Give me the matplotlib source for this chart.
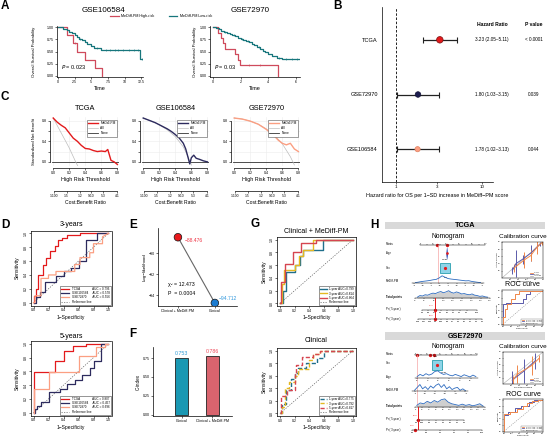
import matplotlib
matplotlib.use('Agg')
import matplotlib.pyplot as plt
import numpy as np
from matplotlib.lines import Line2D
from matplotlib.transforms import blended_transform_factory

plt.rcParams['font.family'] = ['Liberation Sans', 'DejaVu Sans']
plt.rcParams.update({
    'axes.linewidth': 0.5,
    'xtick.major.width': 0.4, 'ytick.major.width': 0.4,
    'xtick.major.size': 1.3, 'ytick.major.size': 1.3,
    'xtick.major.pad': 0.8, 'ytick.major.pad': 0.8,
    'xtick.labelsize': 2.6, 'ytick.labelsize': 2.6,
    'axes.labelpad': 1.5,
})

# ---------------- DATA ----------------
# A: Kaplan-Meier
km1_hi_t = [0, 1.3, 2.2, 2.8, 4.0, 5.5, 6.6]
km1_hi_s = [1.0, 0.833, 0.667, 0.5, 0.333, 0.167, 0.0]
km1_hi_cens = [2.5]
km1_lo_t = [0, 0.8, 1.3, 1.7, 2.1, 2.5, 2.9, 3.2, 3.6, 4.0, 4.4, 4.9, 5.4, 6.5, 12.3, 12.7]
km1_lo_s = [1.0, 0.97, 0.94, 0.91, 0.88, 0.84, 0.80, 0.77, 0.74, 0.70, 0.66, 0.62, 0.58, 0.53, 0.34, 0.34]
km1_lo_cens = [3.3, 5.9, 7.2, 7.8, 8.5, 9.0, 9.8, 10.6, 11.4, 12.0, 12.6]
km2_hi_t = [0, 0.38, 0.55, 0.72, 0.85, 1.6, 1.8, 1.95, 4.7]
km2_hi_s = [1.0, 0.89, 0.78, 0.67, 0.56, 0.44, 0.33, 0.22, 0.0]
km2_hi_cens = [2.6, 3.4]
km2_lo_t = [0, 0.2, 0.4, 0.6, 0.8, 1.0, 1.2, 1.4, 1.6, 1.8, 2.0, 2.2, 2.4, 2.6, 2.8,
            3.0, 3.2, 3.4, 3.6, 3.8, 4.0, 4.3, 4.6, 5.0, 6.2]
km2_lo_s = [1.0, 0.98, 0.96, 0.93, 0.91, 0.89, 0.87, 0.85, 0.82, 0.79, 0.77, 0.74, 0.72,
            0.69, 0.66, 0.63, 0.60, 0.56, 0.52, 0.48, 0.45, 0.41, 0.37, 0.35, 0.35]
km2_lo_cens = [0.9, 1.5, 2.1, 2.5, 3.3, 4.8, 5.3, 5.7, 6.1]
km_p = ['0.023', '0.03']

# B: forest plot
cohorts = ['TCGA', 'GSE72970', 'GSE106584']
hr = [3.23, 1.80, 1.78]
hr_lo = [2.05, 1.03, 1.02]
hr_hi = [5.11, 3.15, 3.13]
hr_p = ['< 0.0001', '0.039', '0.044']

# C: decision curves
dca_t_tcga = [0, .05, .1, .15, .2, .25, .3, .35, .4, .45, .5, .55, .6, .65, .68, .72, .76, .8]
dca_nb_tcga = [.85, .77, .71, .66, .56, .46, .40, .32, .26, .25, .22, .20, .21, .20, .24, .03, .0, -.05]
all_t_tcga = [0, .1, .2, .28, .31]
all_nb_tcga = [.85, .56, .27, 0.0, -.09]
dca_t_106 = [0, .05, .1, .15, .2, .25, .3, .35, .4, .45, .5, .53, .56, .58, .6, .63, .66, .7, .75, .8]
dca_nb_106 = [.85, .82, .79, .76, .72, .68, .64, .59, .53, .46, .36, .25, .08, -.04, .08, .13, .07, .05, .02, .0]
all_t_106 = [0, .1, .2, .3, .4, .5, .55, .6]
all_nb_106 = [.85, .79, .72, .62, .49, .29, .13, -.06]
dca_t_729 = [0, .1, .2, .3, .4, .5, .55, .6, .65, .7, .75, .8]
dca_nb_729 = [.85, .83, .79, .73, .63, .5, .42, .36, .33, .36, .25, .2]
all_t_729 = [0, .1, .2, .3, .4, .5, .6, .7, .75]
all_nb_729 = [.85, .83, .79, .73, .64, .52, .35, .1, -.06]
cb_ticks = [0.0099, 0.1667, 0.3333, 0.4737, 0.625, 0.8]
cb_labels = ['1:100', '1:5', '1:2', '9:10', '5:3', '4:1']

# D: time-dependent ROC per cohort
d3_tcga_f = [0, 0, .03, .03, .06, .06, .12, .12, .16, .16, .22, .22, .28, .28, .32, .32, .38, .38, .45, .45, .62, .62, 1.0]
d3_tcga_s = [0, .1, .1, .2, .2, .4, .4, .55, .55, .65, .65, .75, .75, .82, .82, .9, .9, .93, .93, .97, .97, 1.0, 1.0]
d3_106_f = [0, .03, .03, .08, .08, .15, .15, .3, .3, .4, .4, .5, .5, .6, .6, .7, .7, .85, .85, 1.0]
d3_106_s = [0, 0, .08, .08, .15, .15, .3, .3, .38, .38, .45, .45, .5, .5, .6, .6, .9, .9, 1.0, 1.0]
d3_729_f = [0, .02, .02, .1, .1, .2, .2, .3, .3, .55, .55, .62, .62, .75, .75, .8, .8, .92, .92, 1.0]
d3_729_s = [0, 0, .1, .1, .35, .35, .4, .4, .45, .45, .55, .55, .65, .65, .72, .72, .85, .85, .95, 1.0]
d5_tcga_f = [0, 0, .29, .29, .4, .4, .52, .52, .7, .7, 1.0]
d5_tcga_s = [0, .59, .59, .75, .75, .9, .9, .97, .97, 1.0, 1.0]
d5_106_f = [0, .02, .02, .05, .05, .1, .1, .2, .2, .35, .35, .45, .45, .55, .55, .65, .65, .75, .75, .8, .8, .9, .9, 1.0]
d5_106_s = [0, 0, .05, .05, .1, .1, .15, .15, .3, .3, .35, .35, .42, .42, .48, .48, .55, .55, .65, .65, .75, .75, 1.0, 1.0]
d5_729_f = [0, 0, .2, .2, .6, .6, .83, .83, .95, .95, 1.0]
d5_729_s = [0, .35, .35, .59, .59, .82, .82, .95, .95, 1.0, 1.0]
d3_auc = ['0.796', '0.578', '0.556']
d5_auc = ['0.807', '0.457', '0.696']

# E: likelihood ratio test
lr_models = ['Clinical + MeDiff-PM', 'Clinical']
lr_loglik = [-88.476, -94.712]
lr_chi2 = '12.473'
lr_p = '0.0004'

# F: C-index
ci_models = ['Clinical', 'Clinical + MeDiff-PM']
ci_vals = [0.753, 0.786]

# G: nomogram ROC
g1_f = [0, .04, .04, .08, .08, .2, .2, .27, .27, .32, .32, .59, .59, 1.0]
g1_s = [0, 0, .2, .2, .5, .5, .6, .6, .75, .75, .83, .83, 1.0, 1.0]
g3_f = [0, .03, .03, .06, .06, .2, .2, .26, .26, .32, .32, .45, .45, 1.0]
g3_s = [0, 0, .3, .3, .52, .52, .6, .6, .75, .75, .83, .83, 1.0, 1.0]
g5_f = [0, .01, .01, .07, .07, .18, .18, .29, .29, .49, .49, 1.0]
g5_s = [0, 0, .33, .33, .61, .61, .8, .8, .94, .94, 1.0, 1.0]
gc1_f = [0, .03, .03, .08, .08, .15, .15, .2, .2, .25, .25, .35, .35, .5, .5, .6, .6, 1.0]
gc1_s = [0, 0, .15, .15, .38, .38, .55, .55, .65, .65, .72, .72, .8, .8, .88, .88, 1.0, 1.0]
gc3_f = [0, .03, .03, .07, .07, .12, .12, .2, .2, .25, .25, .4, .4, .45, .45, .55, .55, 1.0]
gc3_s = [0, 0, .1, .1, .4, .4, .5, .5, .6, .6, .7, .7, .85, .85, .95, .95, 1.0, 1.0]
gc5_f = [0, .01, .01, .1, .1, .2, .2, .22, .22, .3, .3, .45, .45, .55, .55, 1.0]
gc5_s = [0, 0, .28, .28, .38, .38, .62, .62, .77, .77, .89, .89, .95, .95, 1.0, 1.0]
g_auc = ['0.799', '0.814', '0.864']
gc_auc = ['0.775', '0.792', '0.817']

# H: nomograms (TCGA, GSE72970)
pts_ticks = list(range(0, 101, 10))
pts_labels = ['0', '', '20', '', '40', '', '60', '', '80', '', '100']
t_med_ticks = [-6, -5.5, -5, -4.5, -4, -3.5, -3, -2.5, -2]
t_med_dens = [.05, .12, .2, .25, .3, .36, .45, .5, .7, 1.0, .8, .62, .55, .5, .46, .4, .35, .3, .32, .22, .16, .1, .05]
t_tot_ticks = [40, 60, 80, 100, 120, 140, 160, 180, 200]
t_tot_dens = [.1, .3, .25, .4, .35, .5, .6, .55, .7, .8, .65, .75, .9, .7, .6, .75, .65, .5, .55, .45, .4, .5, .35, .3, .2, .25, .15, .1]
t_pr5_pos = [55, 68, 82, 95, 108, 121, 135, 150, 172]
t_pr5_lab = ['0.9', '0.8', '0.7', '0.6', '0.5', '0.4', '0.3', '0.2', '0.05']
t_pr3_pos = [47, 60, 72, 84, 96, 108, 120, 132, 145, 158, 170, 183]
t_pr3_lab = ['0.99', '0.97', '0.95', '0.9', '0.85', '0.8', '0.7', '0.6', '0.5', '0.4', '0.3', '0.2']
t_pat_pts = [26, 41]
t_pat_med_pts = 27.7
t_pat_total = 83
t_pat_pr = ['0.706', '0.902']
t_age_pts = 41
t_age_half = [.2, .6, 1.0, 1.2, 1.0, .8, .5, .2]
t_sex_pts = 38

g_age_ticks = [30, 40, 50, 60, 70, 80]
g_age_dens = [.2, .5, .3, .6, .4, .55, .9, 1.0, .7, .5, .6, .4, .3, .5, .35, .2, .45, .3, .15, .4, .2]
g_med_ticks = [-8, -7.6, -7.2, -6.8, -6.4, -6.0]
g_med_dens = [.1, .5, .9, .3, .6, .2, .7, .4, .8, 1.0, .5, .9, .3, .6, .2, .4, .5, .1, .3, .05]
g_tot_ticks = [0, 20, 40, 60, 80, 100, 120, 140, 160, 180, 200]
g_tot_dens = [.2, .5, .4, .7, .5, .8, .6, .9, 1.0, .6, .4, .3, .2, .35, .2, .3, .15, .25, .4, .1]
g_pr5_pos = [5, 20, 40, 60, 80, 100, 120, 140]
g_pr5_lab = ['0.9', '0.85', '0.8', '0.7', '0.6', '0.5', '0.4', '0.3']
g_pr3_pos = [0, 40, 80, 120, 160, 200]
g_pr3_lab = ['0.9', '0.8', '0.6', '0.4', '0.2', '0.05']
g_pat_pts = [3, 24, 30]
g_pat_total = 8
g_pat_pr = ['0.826', '0.741']
g_sex_pts = 35

cal_t_p1 = [0.30, 0.54, 0.70, 0.85, 0.97]; cal_t_o1 = [0.28, 0.50, 0.62, 0.85, 0.98]
cal_t_p3 = [0.25, 0.34, 0.50, 0.71, 0.93]; cal_t_o3 = [0.20, 0.40, 0.52, 0.70, 0.95]
cal_t_e1 = [0.10, 0.22, 0.15, 0.17, 0.05]; cal_t_e3 = [0.10, 0.37, 0.12, 0.22, 0.05]
cal_g_p1 = [0.25, 0.35, 0.72, 0.90]; cal_g_o1 = [0.12, 0.30, 0.58, 0.80]
cal_g_p3 = [0.23, 0.52, 0.80]; cal_g_o3 = [0.12, 0.40, 0.72]
cal_g_e1 = [0.12, 0.28, 0.30, 0.10]; cal_g_e3 = [0.30, 0.38, 0.25]

hr_t_f1 = [0, 0, .05, .05, .1, .1, .2, .2, .3, .3, .4, .4, 1.0]
hr_t_s1 = [0, .2, .2, .45, .45, .6, .6, .75, .75, .9, .9, 1.0, 1.0]
hr_t_f3 = [0, 0, .08, .08, .5, .5, .6, .6, .7, .7, 1.0]
hr_t_s3 = [0, .6, .6, .65, .65, .75, .75, .9, .9, 1.0, 1.0]
hr_g_f1 = [0, 0, .15, .15, .35, .35, .5, .5, .6, .6, .75, .75, .9, .9, 1.0]
hr_g_s1 = [0, .55, .55, .6, .6, .7, .7, .82, .82, .9, .9, .95, .95, 1.0, 1.0]
hr_g_f3 = [0, 0, .1, .1, .3, .3, .45, .45, .65, .65, .8, .8, 1.0]
hr_g_s3 = [0, .5, .5, .6, .6, .75, .75, .8, .8, .92, .92, 1.0, 1.0]

# ---------------- COLOURS ----------------
C_RED = '#e31a1c'; C_NAVY = '#2d2b5e'; C_SAL = '#fb9f82'
KM_RED = '#cf4a5c'; KM_TEAL = '#17767c'
G_TEAL = '#1f6f8b'; G_GOLD = '#e5b822'; G_RED = '#d64550'
H_BLUE = '#2e6cc0'; H_ORANGE = '#f0884a'; H_PURPLE = '#5a5aaa'

W, H = 550, 441
fig = plt.figure(figsize=(W / 100, H / 100), dpi=100)


def axpx(x0, y0, x1, y1):
    return fig.add_axes([x0 / W, 1 - y1 / H, (x1 - x0) / W, (y1 - y0) / H])


def ftext(x, y, s, **kw):
    kw.setdefault('ha', 'center')
    kw.setdefault('va', 'center')
    fig.text(x / W, 1 - y / H, s, **kw)


def classic(ax):
    ax.spines['top'].set_visible(False)
    ax.spines['right'].set_visible(False)


for lab, x, y in [('A', 5, 6), ('B', 337, 6), ('C', 5, 97), ('D', 5, 225), ('E', 133, 225),
                  ('F', 133, 334), ('G', 255, 224), ('H', 374, 225)]:
    ftext(x, y, lab, fontsize=8.5, fontweight='bold')

# ---------------- A ----------------
def surv_at(ts, times, s):
    idx = np.searchsorted(times, ts, side='right') - 1
    return np.array(s)[idx]


def km(ax, t, s, cens, color):
    ax.step(t, s, where='post', color=color, lw=0.9)
    if cens:
        ax.plot(cens, surv_at(cens, t, s), ls='none', marker='|', ms=1.8, mew=0.4, color=color)


for (box, title, tx, series, xt, xl, p, lp) in [
        ((57, 26, 143, 77), 'GSE106584', 103,
         [(km1_hi_t, km1_hi_s, km1_hi_cens, KM_RED), (km1_lo_t, km1_lo_s, km1_lo_cens, KM_TEAL)],
         [0, 2.5, 5, 7.5, 10, 12.5], (-0.15, 12.75), km_p[0], 8),
        ((210, 26, 300, 77), 'GSE72970', 250,
         [(km2_hi_t, km2_hi_s, km2_hi_cens, KM_RED), (km2_lo_t, km2_lo_s, km2_lo_cens, KM_TEAL)],
         [0, 2, 4, 6], (-0.22, 6.3), km_p[1], 2.5)]:
    ax = axpx(*box)
    classic(ax)
    for t, s, c, col in series:
        km(ax, t, s, c, col)
    ax.set_xlim(xl)
    ax.set_ylim(-0.03, 1.03)
    ax.set_xticks(xt)
    ax.set_xticklabels([f'{v:g}' for v in xt])
    ax.set_yticks([0, 0.25, 0.5, 0.75, 1.0])
    ax.set_yticklabels(['0.00', '0.25', '0.50', '0.75', '1.00'])
    ax.set_xlabel('Time', fontsize=4, labelpad=1.5)
    ax.set_ylabel('Overall Survival Probability', fontsize=3.1, labelpad=lp)
    ax.text(0.05, 0.2, '$\\it{P}$ = ' + p, transform=ax.transAxes, fontsize=4, va='center')
    ftext(tx, 10, title, fontsize=5.8)

fig.legend(handles=[Line2D([], [], color=KM_RED, lw=0.9), Line2D([], [], color=KM_TEAL, lw=0.9)],
           labels=['MeDiff-PM High-risk', 'MeDiff-PM Low-risk'], loc='center',
           bbox_to_anchor=(161 / W, 1 - 16 / H), ncol=2, frameon=False, fontsize=2.7,
           handlelength=2.2, columnspacing=4, handletextpad=0.6)

# ---------------- B ----------------
axB = axpx(382, 7, 493, 182)
classic(axB)
ypos = np.arange(len(cohorts), 0, -1)
hr_a = np.array(hr)
axB.errorbar(hr_a, ypos, xerr=[hr_a - np.array(hr_lo), np.array(hr_hi) - hr_a], fmt='none',
             ecolor='#222222', elinewidth=0.9, capsize=2.2, capthick=0.8)
axB.scatter(hr_a, ypos, s=[22, 16, 14], c=[C_RED, '#1c1c4f', C_SAL], edgecolors=['#7a1010', '#111133', '#e08060'],
            linewidths=0.5, zorder=3)
axB.axvline(1, ls=(0, (3, 2)), color='black', lw=0.6)
axB.set_xscale('log')
axB.set_xlim(0.687, 13.4)
axB.set_ylim(0.4, 3.6)
axB.set_xticks([1, 3, 10])
axB.set_xticklabels(['1', '3', '10'], fontsize=3.2)
axB.minorticks_off()
axB.set_yticks(ypos)
axB.set_yticklabels(cohorts, fontsize=4.1)
axB.tick_params(axis='y', length=0, pad=3)
axB.set_xlabel('Hazard ratio for OS per 1−SD increase in MeDiff−PM score', fontsize=3.9, labelpad=3)
trB = blended_transform_factory(fig.transFigure, axB.transData)
axB.text(492 / W, 3.28, 'Hazard Ratio', transform=trB, ha='center', va='center', fontsize=3.6,
         fontweight='bold')
axB.text(534 / W, 3.28, 'P value', transform=trB, ha='center', va='center', fontsize=3.6,
         fontweight='bold')
for i in range(len(cohorts)):
    axB.text(492 / W, ypos[i], f'{hr[i]:.2f} ({hr_lo[i]:.2f}–{hr_hi[i]:.2f})', transform=trB,
             ha='center', va='center', fontsize=3.3)
    axB.text(534 / W, ypos[i], hr_p[i], transform=trB, ha='center', va='center', fontsize=3.3)

# ---------------- C ----------------
dca_sets = [('TCGA', (52, 117, 119, 166), dca_t_tcga, dca_nb_tcga, all_t_tcga, all_nb_tcga, C_RED),
            ('GSE106584', (142, 117, 209, 166), dca_t_106, dca_nb_106, all_t_106, all_nb_106, C_NAVY),
            ('GSE72970', (233, 117, 300, 166), dca_t_729, dca_nb_729, all_t_729, all_nb_729, C_SAL)]
for k, (title, box, t, nb, ta, nba, col) in enumerate(dca_sets):
    ax = axpx(*box)
    classic(ax)
    ax.grid(color='#ececec', lw=0.4)
    ax.set_axisbelow(True)
    ax.axhline(0, color='#333333', lw=0.6, label='None')
    ax.plot(ta, nba, color='#bdbdbd', lw=0.5, label='All')
    ax.plot(t, nb, color=col, lw=1.0, label='MeDiff-PM')
    ax.set_xlim(-0.015, 0.82)
    ax.set_ylim(-0.08, 0.87)
    ax.set_xticks([0, .2, .4, .6, .8])
    ax.set_xticklabels(['0.0', '0.2', '0.4', '0.6', '0.8'], fontsize=2.4)
    ax.set_yticks([0, .2, .4, .6, .8])
    ax.set_yticklabels(['0.0', '', '0.4', '', '0.8'], fontsize=2.4, rotation=90, va='center')
    ax.spines['left'].set_bounds(0, 0.8)
    ax.spines['bottom'].set_bounds(0, 0.8)
    ax.spines['left'].set_position(('outward', 1.5))
    ax.spines['bottom'].set_position(('outward', 1.5))
    ax.set_xlabel('High Risk Threshold', fontsize=3.9, labelpad=1.5)
    if k == 0:
        ax.set_ylabel('Standardized Net Benefit', fontsize=3.1, labelpad=4)
    h, l = ax.get_legend_handles_labels()
    ax.legend([h[2], h[1], h[0]], [l[2], l[1], l[0]], loc='upper right', bbox_to_anchor=(1.0, 0.98),
              fontsize=2.3, frameon=True, fancybox=False, edgecolor='#555555', framealpha=1,
              handlelength=3, borderpad=0.5, labelspacing=0.3).get_frame().set_linewidth(0.4)
    sec = ax.secondary_xaxis(-0.52)
    sec.set_xticks(cb_ticks)
    sec.set_xticklabels(cb_labels, fontsize=2.4)
    sec.spines['bottom'].set_bounds(cb_ticks[0], cb_ticks[-1])
    sec.set_xlabel('Cost:Benefit Ratio', fontsize=3.6, labelpad=1.5)
    ftext((box[0] + box[2]) / 2, 109, title, fontsize=5.3)

# ---------------- D ----------------
def roc_axes(ax):
    ax.set_xlim(-0.04, 1.04)
    ax.set_ylim(-0.04, 1.04)
    ax.set_xticks([0, .2, .4, .6, .8, 1])
    ax.set_xticklabels(['0.0', '0.2', '0.4', '0.6', '0.8', '1.0'], fontsize=2.5)
    ax.set_yticks([0, .2, .4, .6, .8, 1])
    ax.set_yticklabels(['0.0', '0.2', '0.4', '0.6', '0.8', '1.0'], fontsize=2.5, rotation=90, va='center')
    ax.plot([0, 1], [0, 1], ls=(0, (2, 2)), color='#555555', lw=0.45, label='Reference line')
    ax.set_xlabel('1−Specificity', fontsize=3.6, labelpad=1.5)
    ax.set_ylabel('Sensitivity', fontsize=3.6, labelpad=2.5)


for (box, ttl, ty, curves, aucs) in [
        ((30.5, 230.5, 111.5, 305.5), '3-years', 225,
         [(d3_tcga_f, d3_tcga_s), (d3_106_f, d3_106_s), (d3_729_f, d3_729_s)], d3_auc),
        ((30.5, 341, 111.5, 415.5), '5-years', 336,
         [(d5_tcga_f, d5_tcga_s), (d5_106_f, d5_106_s), (d5_729_f, d5_729_s)], d5_auc)]:
    ax = axpx(*box)
    roc_axes(ax)
    hs = []
    for (f, s), col in zip(curves, [C_RED, C_NAVY, C_SAL]):
        hs.append(ax.plot(f, s, color=col, lw=0.9)[0])
    hs.append(Line2D([], [], ls=(0, (2, 2)), color='#555555', lw=0.45))
    labs = [f'TCGA              AUC = {aucs[0]}', f'GSE106584     AUC = {aucs[1]}',
            f'GSE72970       AUC = {aucs[2]}', 'Reference line']
    lg = ax.legend(hs, labs, loc='lower right', fontsize=2.2, frameon=True, fancybox=False,
                   edgecolor='#444444', framealpha=1, handlelength=2.8, borderpad=0.3,
                   labelspacing=0.1, borderaxespad=0.3)
    lg.get_frame().set_linewidth(0.4)
    ftext((box[0] + box[2]) / 2, ty, ttl, fontsize=5)

# ---------------- E ----------------
axE = axpx(158, 228, 237, 306)
classic(axE)
xE = np.arange(1, len(lr_models) + 1)
axE.plot(xE, lr_loglik, color='#666666', lw=0.8, zorder=1)
axE.scatter(xE, lr_loglik, s=30, c=['#e8191c', '#1b7bd0'], edgecolors='#111111', linewidths=0.5, zorder=3)
axE.text(xE[0] + 0.18, lr_loglik[0] - 0.35, f'{lr_loglik[0]:.3f}'.replace('-', '−'), color='#ee3344',
         fontsize=3.6, va='center')
axE.text(xE[1] + 0.1, lr_loglik[1] + 0.45, f'{lr_loglik[1]:.3f}'.replace('-', '−'), color='#3399dd',
         fontsize=3.6, va='center')
axE.text(0.13, 0.28, 'χ² = ' + lr_chi2, transform=axE.transAxes, fontsize=3.8, va='center')
axE.text(0.13, 0.16, 'P  = ' + lr_p, transform=axE.transAxes, fontsize=3.8, va='center')
axE.set_xlim(0.46, 2.6)
axE.set_ylim(-95.0, -87.6)
axE.set_xticks(xE)
axE.set_xticklabels(lr_models, fontsize=2.6)
axE.set_yticks([-94, -92, -90])
axE.set_ylabel('Log−likelihood', fontsize=3.2, labelpad=2)

# ---------------- F ----------------
axF = axpx(153, 347, 232, 416)
classic(axF)
xF = np.arange(len(ci_models))
axF.bar(xF, ci_vals, width=0.42, color=['#1a98b3', '#d9646e'], edgecolor='#222222', linewidth=0.6)
for xi, v, c in zip(xF, ci_vals, ['#2e9bd6', '#ee4455']):
    axF.text(xi, v + 0.025, f'{v:.3f}', ha='center', va='bottom', fontsize=3.8, color=c)
axF.set_xlim(-0.92, 1.63)
axF.set_ylim(-0.02, 0.9)
axF.set_xticks(xF)
axF.set_xticklabels(ci_models, fontsize=2.6)
axF.set_yticks([0, 0.25, 0.5, 0.75])
axF.set_yticklabels(['0.00', '0.25', '0.50', '0.75'])
axF.set_ylabel('C-index', fontsize=3.3, labelpad=2)

# ---------------- G ----------------
for (box, ttl, ty, curves, aucs, ls) in [
        ((277, 237, 356, 306), 'Clinical + MeDiff-PM', 232, [(g1_f, g1_s), (g3_f, g3_s), (g5_f, g5_s)], g_auc, '-'),
        ((277, 348, 356, 416), 'Clinical', 341, [(gc1_f, gc1_s), (gc3_f, gc3_s), (gc5_f, gc5_s)], gc_auc, (0, (3, 1.5)))]:
    ax = axpx(*box)
    roc_axes(ax)
    hs = []
    for (f, s), col in zip(curves, [G_TEAL, G_GOLD, G_RED]):
        hs.append(ax.plot(f, s, color=col, lw=1.0, ls=ls)[0])
    hs.append(Line2D([], [], ls=(0, (2, 2)), color='#555555', lw=0.45))
    labs = [f'1-year AUC={aucs[0]}', f'3-year AUC={aucs[1]}', f'5-year AUC={aucs[2]}', 'Reference line']
    lg = ax.legend(hs, labs, loc='lower right', fontsize=2.2, frameon=True, fancybox=False,
                   edgecolor='#444444', framealpha=1, handlelength=2.4, borderpad=0.3,
                   labelspacing=0.1, borderaxespad=0.3)
    lg.get_frame().set_linewidth(0.4)
    ftext((box[0] + box[2]) / 2, ty, ttl, fontsize=5)

# ---------------- H ----------------
def banner(y0, y1, txt):
    ax = axpx(385, y0, 545, y1)
    ax.set_facecolor('#d9d9d9')
    ax.set_xticks([]); ax.set_yticks([])
    for s in ax.spines.values():
        s.set_visible(False)
    ax.text(0.5, 0.5, txt, ha='center', va='center', fontsize=5.2, fontweight='bold', transform=ax.transAxes)


def nom_row(x0, x1, y, h, lim, ticks, labels, above=False, bounds=None):
    ax = axpx(x0, y - h, x1, y)
    ax.patch.set_alpha(0)
    for s in ['top', 'right', 'left']:
        ax.spines[s].set_visible(False)
    ax.spines['bottom'].set_linewidth(0.35)
    if bounds is not None:
        ax.spines['bottom'].set_bounds(*bounds)
    ax.set_xlim(lim)
    ax.set_ylim(0, 1)
    ax.set_yticks([])
    ax.set_xticks(ticks)
    ax.set_xticklabels(labels, fontsize=1.5)
    ax.tick_params(axis='x', length=0.8, width=0.3, pad=0.3)
    if above:
        ax.tick_params(axis='x', top=True, bottom=False, labeltop=True, labelbottom=False, direction='in')
    return ax


def row_label(y, s, bold=False):
    ftext(386, y, s, fontsize=2.0, ha='left', fontweight='bold' if bold else 'normal')


def density(ax, lim_lo, lim_hi, d, fill=False):
    xs = np.linspace(lim_lo, lim_hi, len(d))
    d = np.array(d)
    if fill:
        ax.fill_between(xs, 0, d * 0.9, color='#cfcfcf', lw=0)
    ax.plot(xs, d * 0.9, color=H_BLUE, lw=0.6)


def calib(box, p1, o1, e1, p3, o3, e3, ttl_y):
    ax = axpx(*box)
    ax.plot([0, 1], [0, 1], color='#aaaaaa', lw=0.4)
    ax.errorbar(p3, o3, yerr=e3, color=H_PURPLE, lw=0.7, elinewidth=0.7, capsize=0)
    ax.errorbar(p1, o1, yerr=e1, color=H_ORANGE, lw=0.7, elinewidth=0.7, capsize=0)
    ax.set_xlim(0, 1); ax.set_ylim(0, 1)
    ax.set_xticks([.2, .4, .6, .8, 1]); ax.set_yticks([.2, .4, .6, .8, 1])
    ax.tick_params(labelsize=1.3, length=0.6, width=0.3, pad=0.3)
    for s in ax.spines.values():
        s.set_linewidth(0.35)
    ax.set_xlabel('Predicted Survival', fontsize=1.6, labelpad=0.5)
    ax.set_ylabel('Actual Survival', fontsize=1.6, labelpad=0.5)
    ax.legend([Line2D([], [], color=H_ORANGE, lw=0.6), Line2D([], [], color=H_PURPLE, lw=0.6),
               Line2D([], [], color='#aaaaaa', lw=0.5)], ['1 year', '3 year', 'Ideal line'],
              loc='lower right', fontsize=1.3, frameon=False, handlelength=1.5, labelspacing=0.1)
    ftext((box[0] + box[2]) / 2, ttl_y, 'Calibration curve', fontsize=4.6)


def hroc(box, f1, s1, f3, s3, ttl_y, labs):
    ax = axpx(*box)
    ax.plot([0, 1], [0, 1], ls=(0, (2, 2)), color='#888888', lw=0.4)
    ax.plot(f3, s3, color=H_PURPLE, lw=0.7)
    ax.plot(f1, s1, color=H_ORANGE, lw=0.7)
    ax.set_xlim(-0.03, 1.03); ax.set_ylim(-0.03, 1.03)
    ax.set_xticks([0, .2, .4, .6, .8, 1]); ax.set_yticks([0, .2, .4, .6, .8, 1])
    ax.tick_params(labelsize=1.3, length=0.6, width=0.3, pad=0.3)
    for s in ax.spines.values():
        s.set_linewidth(0.35)
    ax.set_xlabel('1−Specificity', fontsize=1.6, labelpad=0.5)
    ax.set_ylabel('Sensitivity', fontsize=1.6, labelpad=0.5)
    lg = ax.legend([Line2D([], [], color=H_ORANGE, lw=0.6), Line2D([], [], color=H_PURPLE, lw=0.6),
                    Line2D([], [], color='#888888', lw=0.4, ls='--')], labs,
                   loc='lower right', fontsize=1.3, frameon=True, fancybox=False, edgecolor='#555555',
                   handlelength=1.5, labelspacing=0.1, borderpad=0.3)
    lg.get_frame().set_linewidth(0.3)
    ftext((box[0] + box[2]) / 2, ttl_y, 'ROC curve', fontsize=5)


# --- TCGA nomogram ---
banner(222, 229, 'TCGA')
ftext(448, 236, 'Nomogram', fontsize=4.9)
axp = nom_row(420, 485, 245, 0.8, (0, 100), pts_ticks, pts_labels, above=True)
axp.plot(t_pat_pts, [0, 0], ls='none', marker='o', ms=1.4, color=C_RED, clip_on=False)
row_label(244, 'Points')
ov = axpx(420, 245, 485, 283); ov.axis('off'); ov.set_xlim(0, 100)
ov.axvline(t_pat_med_pts, color='#f6a5a5', lw=0.5)
axa = axpx(420, 247, 485, 259); axa.axis('off'); axa.set_xlim(0, 100); axa.set_ylim(0, 1)
hh = np.linspace(0, 1, len(t_age_half))
axa.fill_betweenx(hh, t_age_pts - np.array(t_age_half), t_age_pts + np.array(t_age_half), color='#2040b0', lw=0)
axa.plot([t_age_pts], [0.5], marker='o', ms=0.9, color=C_RED)
row_label(253, 'Age')
axs = axpx(420, 260, 485, 276); axs.axis('off'); axs.set_xlim(0, 100); axs.set_ylim(0, 1)
axs.plot([t_sex_pts], [0.5], marker='s', ms=6.5, mfc='#8fd4e8', mec='#2aa0b0', mew=0.6)
axs.plot([t_sex_pts], [0.5], marker='o', ms=1.3, color=C_RED)
axs.text(t_sex_pts, 1.02, 'Female', fontsize=1.4, ha='center', va='bottom')
axs.text(t_sex_pts + 2, -0.05, 'Male', fontsize=1.4, ha='center', va='top')
row_label(268, 'Sex')
axm = nom_row(412, 484, 283, 8, (-6.1, -1.9), t_med_ticks, [f'{v:g}' for v in t_med_ticks])
density(axm, -5.9, -2.1, t_med_dens)
row_label(281, 'MeDiff-PM')
axt = nom_row(415, 490, 298, 9, (40, 200), t_tot_ticks, [str(v) for v in t_tot_ticks])
density(axt, 45, 195, t_tot_dens, fill=True)
row_label(297, 'Total points', bold=True)
a5 = nom_row(415, 490, 310, 1, (40, 200), t_pr5_pos, t_pr5_lab, bounds=(t_pr5_pos[0], t_pr5_pos[-1]))
a5.plot([t_pat_total], [0], marker='o', ms=1.4, color=C_RED, clip_on=False)
a5.text(t_pat_total - 3, 3.5, t_pat_pr[0], color=C_RED, fontsize=1.4, ha='right', va='bottom')
row_label(309, 'Pr ( 5-year )')
a3 = nom_row(415, 490, 319, 1, (40, 200), t_pr3_pos, t_pr3_lab, bounds=(t_pr3_pos[0], t_pr3_pos[-1]))
a3.plot([t_pat_total], [0], marker='o', ms=1.4, color=C_RED, clip_on=False)
a3.text(t_pat_total - 3, 3.5, t_pat_pr[1], color=C_RED, fontsize=1.4, ha='right', va='bottom')
row_label(319, 'Pr ( 3-year )')
ovt = axpx(415, 298, 490, 319); ovt.axis('off'); ovt.set_xlim(40, 200)
ovt.axvline(t_pat_total, color=C_RED, lw=0.7)
calib((502, 242, 543, 278), cal_t_p1, cal_t_o1, cal_t_e1, cal_t_p3, cal_t_o3, cal_t_e3, 236)
hroc((502, 290, 543, 325), hr_t_f1, hr_t_s1, hr_t_f3, hr_t_s3, 285,
     ['1-year AUC = 0.802', '3-year AUC = 0.744', 'Reference line'])

# --- GSE72970 nomogram ---
banner(332, 340, 'GSE72970')
ftext(448, 346, 'Nomogram', fontsize=4.9)
axp = nom_row(415, 477, 355, 0.8, (0, 100), pts_ticks, pts_labels, above=True)
axp.plot(g_pat_pts, [0, 0, 0], ls='none', marker='o', ms=1.4, color=C_RED, clip_on=False)
row_label(354, 'Points')
ov = axpx(415, 355, 477, 407); ov.axis('off'); ov.set_xlim(0, 100)
ov.axvline(g_pat_pts[0], color='#f6a5a5', lw=0.5)
axs = axpx(415, 357, 477, 372); axs.axis('off'); axs.set_xlim(0, 100); axs.set_ylim(0, 1)
axs.plot([g_sex_pts], [0.5], marker='s', ms=6.5, mfc='#8fd4e8', mec='#2aa0b0', mew=0.6)
axs.plot([g_sex_pts], [0.5], marker='o', ms=1.3, color=C_RED)
axs.text(g_sex_pts - 2, 1.02, 'Male', fontsize=1.4, ha='center', va='bottom')
axs.text(g_sex_pts + 6, 0.0, 'Female', fontsize=1.4, ha='left', va='top')
row_label(363, 'Sex')
axg = nom_row(415, 478, 378, 8, (28, 87), g_age_ticks, [str(v) for v in g_age_ticks])
density(axg, 30, 85, g_age_dens)
row_label(377, 'Age')
axm = nom_row(412, 468, 391, 8, (-8.1, -5.9), g_med_ticks, [f'{v:g}' for v in g_med_ticks])
density(axm, -8.0, -6.0, g_med_dens)
row_label(390, 'MeDiff-PM')
axt = nom_row(415, 485, 407, 9, (0, 200), g_tot_ticks, [str(v) for v in g_tot_ticks])
density(axt, 5, 195, g_tot_dens, fill=True)
row_label(406, 'Total points', bold=True)
a5 = nom_row(415, 485, 420, 1, (0, 200), g_pr5_pos, g_pr5_lab, bounds=(g_pr5_pos[0], g_pr5_pos[-1]))
a5.plot([g_pat_total], [0], marker='o', ms=1.4, color=C_RED, clip_on=False)
a5.text(g_pat_total - 2, 3.5, g_pat_pr[0], color=C_RED, fontsize=1.4, ha='right', va='bottom')
row_label(419, 'Pr ( 5-year )')
a3 = nom_row(412, 482, 430, 1, (0, 200), g_pr3_pos, g_pr3_lab, bounds=(g_pr3_pos[0], g_pr3_pos[-1]))
a3.plot([g_pat_total], [0], marker='o', ms=1.4, color=C_RED, clip_on=False)
a3.text(g_pat_total - 2, 3.5, g_pat_pr[1], color=C_RED, fontsize=1.4, ha='right', va='bottom')
row_label(430, 'Pr ( 3-year )')
ovt = axpx(415, 407, 485, 430); ovt.axis('off'); ovt.set_xlim(0, 200)
ovt.axvline(g_pat_total, color=C_RED, lw=0.7)
calib((503, 352, 543, 384), cal_g_p1, cal_g_o1, cal_g_e1, cal_g_p3, cal_g_o3, cal_g_e3, 346)
hroc((503, 399, 543, 432), hr_g_f1, hr_g_s1, hr_g_f3, hr_g_s3, 395,
     ['1-year AUC = 0.663', '3-year AUC = 0.681', 'Reference line'])

fig.savefig('out.png', dpi=100)
